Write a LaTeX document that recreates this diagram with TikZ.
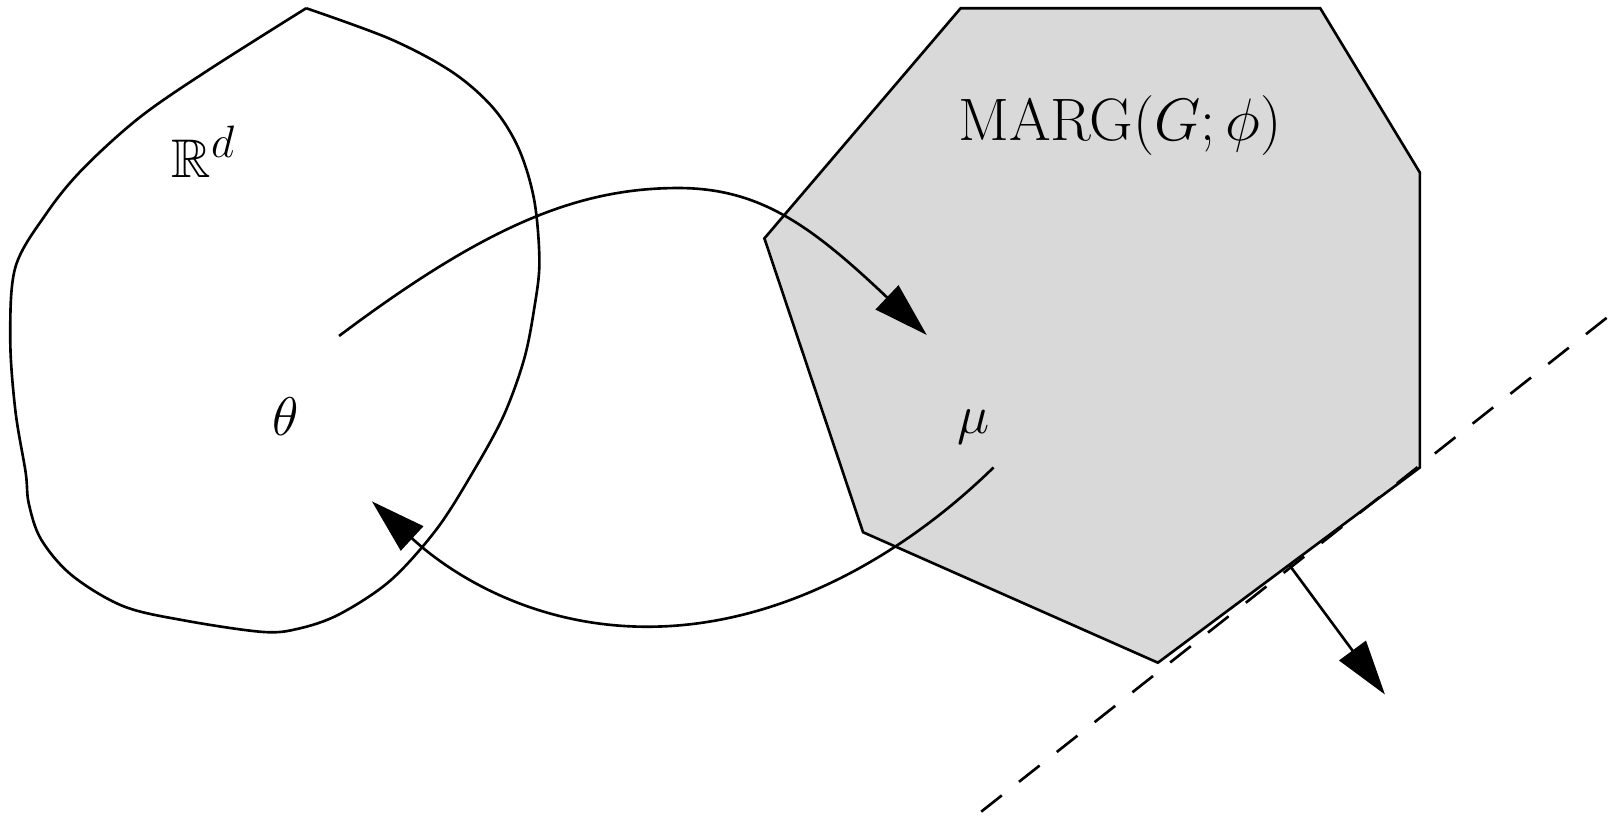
\documentclass[tikz,border=0pt]{standalone}
\usepackage{amsmath,amssymb}
\usetikzlibrary{arrows.meta}

\begin{document}
\begin{tikzpicture}[
    x=0.0165cm, y=-0.0165cm,
    outline/.style={draw=black, line width=1.2pt},
    region/.style={outline, fill=gray!30},
    arr/.style={-{Triangle[length=25pt,width=15pt]}, line width=1.2pt},
    hyper/.style={line width=1.2pt, dash pattern=on 12pt off 10pt},
    lbl/.style={font=\Huge, inner sep=0pt}
]
    \useasboundingbox (0,0) rectangle (1568,808);

    % Shapes
    \draw[outline] plot[smooth, tension=0.55] coordinates {
        (298,8) (380,38) (440,70) (480,105) (505,145) (520,195) (525,255)
        (520,300) (510,350) (490,405) (460,460) (425,515) (380,565) (330,598)
        (290,612) (255,615) (180,604) (120,590) (70,560) (40,525) (28,490)
        (25,460) (15,400) (10,330) (15,260) (45,208) (80,165) (135,115)
        (200,70) (298,8)};
    \draw[region] (935,8) -- (1285,8) -- (1382,168) -- (1382,455)
        -- (1127,645) -- (840,518) -- (744,232) -- cycle;

    % Nodes
    \node[lbl] (rd) at (198,148) {$\mathbb{R}^d$};
    \node[lbl] (theta) at (278,405) {$\theta$};
    \node[lbl] (mu) at (948,416) {$\mu$};
    \node[lbl] (marg) at (1090,122) {\scalebox{1.1}{$\mathrm{MARG}(G;\phi)$}};

    \coordinate (fwds) at (330,327);
    \coordinate (fwdm) at (660,183);
    \coordinate (fwde) at (902,326);
    \coordinate (backs) at (967,455);
    \coordinate (backm) at (630,610);
    \coordinate (backe) at (362,488);
    \coordinate (nrms) at (1255,550);
    \coordinate (nrme) at (1348,676);
    \coordinate (hyps) at (955,790);
    \coordinate (hype) at (1568,306);

    % Arrows
    \draw[arr] (fwds) .. controls (470,222) and (560,183) .. (fwdm)
        .. controls (740,183) and (790,220) .. (fwde);
    \draw[arr] (backs) .. controls (880,540) and (760,610) .. (backm)
        .. controls (520,610) and (440,560) .. (backe);
    \draw[arr] (nrms) -- (nrme);
    \draw[hyper] (hyps) -- (hype);
\end{tikzpicture}
\end{document}
